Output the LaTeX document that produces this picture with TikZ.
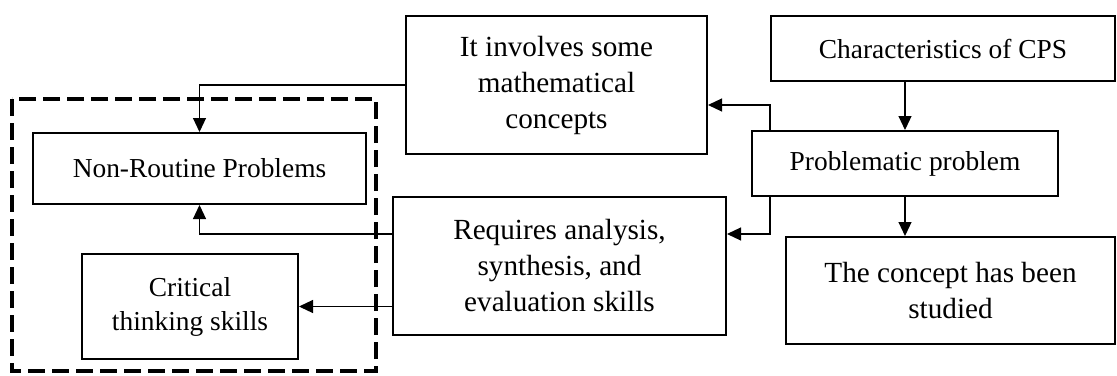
\documentclass[tikz,border=0pt]{standalone}
\usepackage{fontspec}
\setmainfont{Liberation Serif}
\usepackage{tikz}
\usetikzlibrary{arrows.meta}
\usetikzlibrary{calc}
\tikzset{>={Triangle[length=7pt,width=6.5pt]}}
\tikzset{
    box/.style={draw, line width=1pt, align=center, inner sep=0pt,
        font=\fontsize{13.7}{17}\selectfont},
    bigbox/.style={box, font=\fontsize{14.6}{18}\selectfont},
    link/.style={->, line width=0.6pt},
    groupbox/.style={draw, line width=2pt, dash pattern=on 8.5pt off 3.5pt}
}

\begin{document}
\begin{tikzpicture}[x=0.5pt, y=-0.5pt]
            \useasboundingbox (0, 0) rectangle (1117, 375);
            \node[bigbox, minimum width=150.5pt, minimum height=69pt] (invol) at (556.5, 85) {It involves some\\mathematical\\concepts};
            \node[box, minimum width=172pt, minimum height=32.5pt] (cps) at (943, 48.5) {Characteristics of CPS};
            \node[box, minimum width=153pt, minimum height=32.5pt] (prob) at (905, 163.5) {Problematic problem};
            \node[box, minimum width=166.5pt, minimum height=35.5pt] (nonr) at (199.5, 168.5) {Non-Routine Problems};
            \node[bigbox, minimum width=166.5pt, minimum height=69pt] (req) at (559.5, 266) {Requires analysis,\\synthesis, and\\evaluation skills};
            \node[box, minimum width=108pt, minimum height=52.5pt] (crit) at (190, 306.5) {Critical\\thinking skills};
            \node[bigbox, minimum width=164.5pt, minimum height=53.5pt] (conc) at (950.5, 290.5) {The concept has been\\studied};
            \draw[groupbox] (12, 99) rectangle (376, 371);
            \draw[link] (cps.south -| prob.north) -- (prob.north);
            \draw[link] ($(prob.north west)+(19, 0)$) |- ($(invol.east)+(0, 20)$);
            \draw[link] (invol.west) -| (nonr.north);
            \draw[link] ($(prob.south west)+(19, 0)$) |- ($(req.east)+(0, -32)$);
            \draw[link] (prob.south) -- (prob.south |- conc.north);
            \draw[link] ($(req.west)+(0, -32)$) -| (nonr.south);
            \draw[link] (crit.east -| req.west) -- (crit.east);
        \end{tikzpicture}
\end{document}
